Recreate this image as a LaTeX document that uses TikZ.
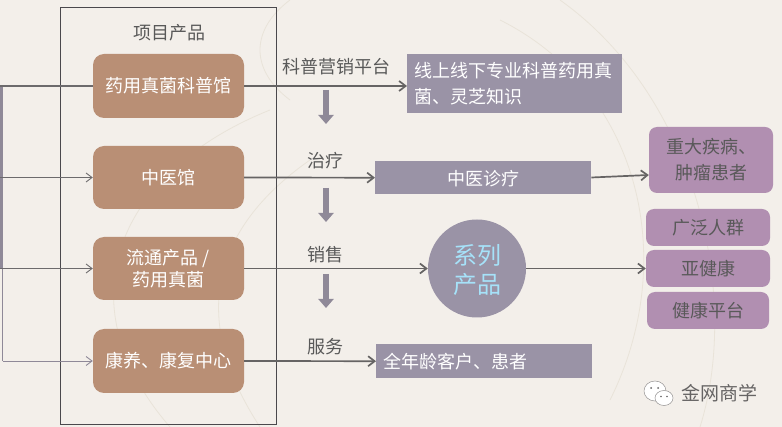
\documentclass[tikz,border=0pt]{standalone}
\usepackage{fontspec}
\setmainfont{Noto Sans CJK SC}
\usetikzlibrary{arrows.meta,calc}
\definecolor{bgc}{HTML}{F3EFEA}
\definecolor{tanc}{HTML}{B98F75}
\definecolor{greyp}{HTML}{9A93A6}
\definecolor{pinkp}{HTML}{B18FB1}
\definecolor{linec}{HTML}{666464}
\definecolor{txtc}{HTML}{595959}
\definecolor{framec}{HTML}{4A484C}
\definecolor{trunkc}{HTML}{8F8998}
\definecolor{faintc}{HTML}{E9E3D9}
\tikzset{
  x=1pt,y=-1pt,
  every node/.style={font=\fontsize{18}{26}\selectfont},
  prodbox/.style={fill=tanc,rounded corners=11pt,text=white,minimum width=151pt,align=center,inner sep=0pt},
  greybox/.style={fill=greyp,text=white,inner sep=0pt,anchor=north west},
  pinkbox/.style={fill=pinkp,rounded corners=8pt,text=txtc,align=center,inner sep=0pt},
  lab/.style={text=txtc,inner sep=0pt},
  flow/.style={draw=linec,line width=1.7pt,-{Straight Barb[length=6.5pt,width=10pt,line width=1.7pt]}},
  feed/.style={draw=linec!85!trunkc,line width=0.9pt,-{Straight Barb[length=6pt,width=9pt]}},
  downarr/.style={draw=trunkc,line width=6.5pt,-{Triangle[length=9pt,width=15pt]}},
  faint/.style={draw=faintc,line width=0.8pt},
}
\begin{document}
\begin{tikzpicture}
\useasboundingbox (0,0) rectangle (782,427);
\fill[bgc] (0,0) rectangle (782,427);
% faint paper background lines
\draw[faint] (170,427) .. controls (60,300) and (120,170) .. (270,110);
\draw[faint] (260,427) .. controls (190,320) and (210,230) .. (310,160);
\draw[faint] (500,20) .. controls (640,90) and (680,260) .. (610,400);
\draw[faint] (290,0) .. controls (250,30) and (250,70) .. (290,100);
\draw[faint] (700,427) .. controls (740,300) and (700,100) .. (560,0);
% frame
\node[draw=framec,line width=0.9pt,minimum width=216pt,minimum height=416.5pt,inner sep=0pt,anchor=north west] (frame) at (59.5,7.5) {};
\node[lab] (title) at (169,33) {项目产品};
% product boxes
\node[prodbox,minimum height=64pt] (a) at (168.5,86) {药用真菌科普馆};
\node[prodbox,minimum height=63pt] (b) at (168.5,177.5) {中医馆};
\node[prodbox,minimum height=63pt,font=\fontsize{18}{22.5}\selectfont] (c) at (168.5,268.5) {流通产品 /\\药用真菌};
\node[prodbox,minimum height=64pt] (d) at (168.5,361) {康养、康复中心};
% grey boxes
\node[greybox,minimum width=215pt,minimum height=59pt] (g1) at (407,54) {};
\node[text=white,align=left,inner sep=0pt,anchor=west] (g1t) at (414,84) {线上线下专业科普药用真\\菌、灵芝知识};
\node[greybox,minimum width=216pt,minimum height=33pt] (g2) at (375,161) {};
\node[text=white,inner sep=0pt] (g2t) at (483,179) {中医诊疗};
\node[greybox,minimum width=216pt,minimum height=34pt] (g3) at (376,344) {};
\node[text=white,inner sep=0pt,anchor=west] (g3t) at (383,362) {全年龄客户、患者};
\node[circle,fill=greyp,minimum size=98pt,inner sep=0pt] (circ) at (477,268.5) {};
\node[text=cyan!35!white,align=center,inner sep=0pt,font=\fontsize{24}{29}\selectfont] (circt) at (477,270) {系列\\产品};
% pink boxes
\node[pinkbox,minimum width=124pt,minimum height=66pt] (p1) at (711,160) {重大疾病、\\肿瘤患者};
\node[pinkbox,minimum width=124pt,minimum height=37pt] (p2) at (708,227.5) {广泛人群};
\node[pinkbox,minimum width=124pt,minimum height=37pt] (p3) at (708,268.5) {亚健康};
\node[pinkbox,minimum width=122pt,minimum height=37pt] (p4) at (708,310.5) {健康平台};
% flow labels
\node[lab] (l1) at (336,67) {科普营销平台};
\node[lab] (l2) at (325,161) {治疗};
\node[lab] (l3) at (325,255) {销售};
\node[lab] (l4) at (325,347) {服务};
% flow arrows
\draw[flow] (a.east) -- (a.east -| g1.west);
\draw[flow] (b.east) -- (g2.west);
\draw[flow] (c.east) -- (circ.west);
\draw[flow] (d.east) -- (g3.west);
\draw[flow] (g2.east |- 0,177.5) -- (p1.west |- 0,175);
\draw[flow] (circ.east) -- (p3.west);
% down arrows
\coordinate (d1s) at (326,90); \coordinate (d1e) at (326,124);
\coordinate (d2s) at (326,188); \coordinate (d2e) at (326,222);
\coordinate (d3s) at (326,274); \coordinate (d3e) at (326,308);
\draw[downarr] (d1s) -- (d1e);
\draw[downarr] (d2s) -- (d2e);
\draw[downarr] (d3s) -- (d3e);
% left feed
\coordinate (t0) at (0,86);
\coordinate (t1) at (0,177.5);
\coordinate (t2) at (0,268.5);
\coordinate (t3) at (2.5,361);
\fill[trunkc] (0,86) rectangle (3,268);
\draw[draw=trunkc,line width=0.9pt] (2.5,268) -- (t3);
\draw[draw=linec!85!trunkc,line width=1.1pt] (t0) -- (a.west);
\draw[feed] (t1) -- (b.west);
\draw[feed] (t2) -- (c.west);
\draw[feed,draw=trunkc] (t3) -- (d.west);
% watermark
\fill[white,draw=linec!70,line width=0.5pt] (655,391) ellipse (11pt and 10pt);
\fill[white,draw=linec!70,line width=0.5pt] (664,398) ellipse (9pt and 7.5pt);
\fill[linec] (651,388) circle (1pt) (658,388) circle (1pt) (661,396.5) circle (0.9pt) (667,396.5) circle (0.9pt);
\node[text=linec,inner sep=0pt,font=\fontsize{19}{22}\selectfont] (wm) at (719,393) {金网商学};
\end{tikzpicture}
\end{document}
